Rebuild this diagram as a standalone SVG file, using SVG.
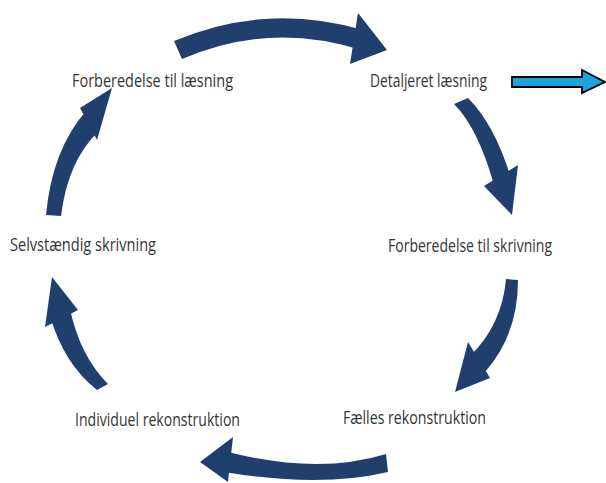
<svg xmlns="http://www.w3.org/2000/svg" width="606" height="483" viewBox="0 0 606 483">
<style>
.lbl{font-family:"Open Sans","Noto Sans",sans-serif;font-size:19px;fill:#353535;}
.band{fill:#203f6d;stroke:none;}
.head{fill:#203f6d;}
.blue{fill:#1ca2dc;stroke:#000;stroke-width:1.8;stroke-linejoin:miter;}
</style>
<rect width="606" height="483" fill="#fff"/>
<g id="connectors">
  <path class="band" d="M174,41 Q266,2 363,30 L361,50 Q270,21 182,59 Z"/>
  <polygon class="head" points="358,13 387,50 350,64"/>
  <path class="band" d="M454,104 Q478,128 494,185 L510,175 Q494,124 468,98 Z"/>
  <polygon class="head" points="518,165 512,215 484,186"/>
  <path class="band" d="M506,279 Q502,325 470,356 L485,372 Q518,335 518,280 Z"/>
  <polygon class="head" points="468,342 490,378 455,392"/>
  <path class="band" d="M386,454 Q318,475 228,452 L224,472 Q320,488 388,472 Z"/>
  <polygon class="head" points="233,437 200,462 228,482"/>
  <path class="band" d="M108,384 Q80,356 70,309 L50,316 Q64,364 97,390 Z"/>
  <polygon class="head" points="78,310 52,277 45,327"/>
  <path class="band" d="M46,215 Q52,150 86,111 L99,131 Q68,160 61,216 Z"/>
  <polygon class="head" points="80,108 112,88 97,140"/>
  <polygon id="out-arrow" class="blue" points="512,77 582,77 582,70 605,82 582,93 582,87 512,87"/>
</g>
<g id="n1"><text class="lbl" x="72" y="87" textLength="161" lengthAdjust="spacingAndGlyphs">Forberedelse til læsning</text></g>
<g id="n2"><text class="lbl" x="370" y="87" textLength="117" lengthAdjust="spacingAndGlyphs">Detaljeret læsning</text></g>
<g id="n3"><text class="lbl" x="388" y="252" style="font-size:17.5px" textLength="164" lengthAdjust="spacingAndGlyphs">Forberedelse til skrivning</text></g>
<g id="n4"><text class="lbl" x="343" y="424" textLength="143" lengthAdjust="spacingAndGlyphs">Fælles rekonstruktion</text></g>
<g id="n5"><text class="lbl" x="75" y="426" textLength="165" lengthAdjust="spacingAndGlyphs">Individuel rekonstruktion</text></g>
<g id="n6"><text class="lbl" x="10" y="251" textLength="146" lengthAdjust="spacingAndGlyphs">Selvstændig skrivning</text></g>
</svg>
